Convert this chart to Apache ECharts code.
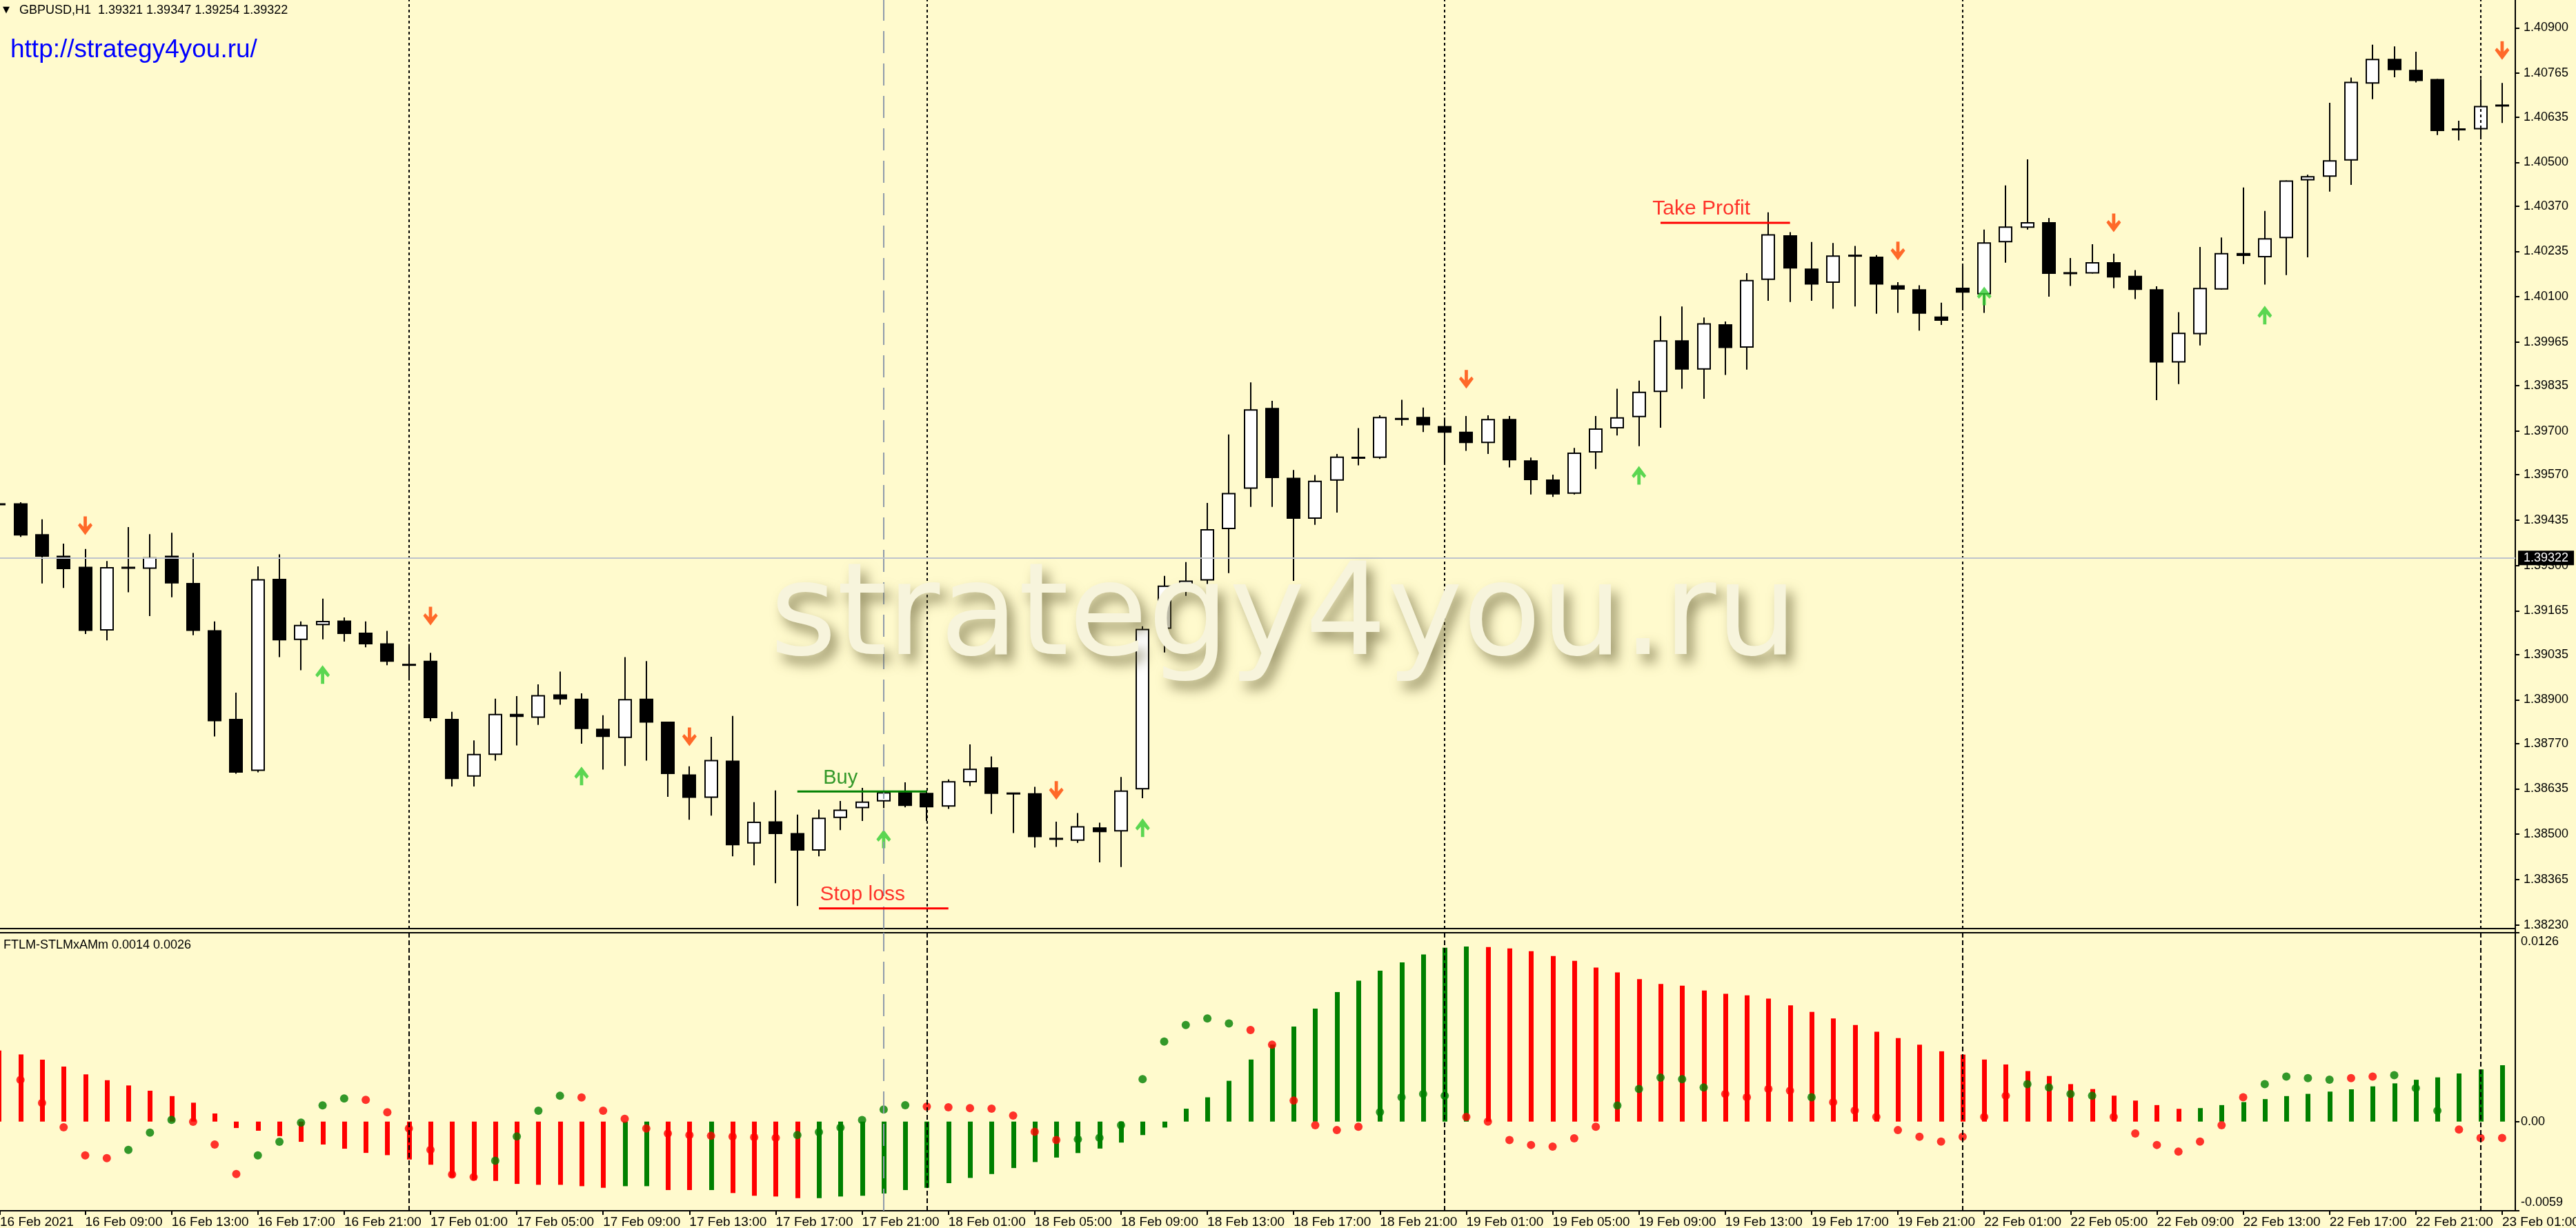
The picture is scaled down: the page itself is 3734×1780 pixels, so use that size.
<!DOCTYPE html>
<html><head><meta charset="utf-8">
<script src="https://cdn.jsdelivr.net/npm/echarts@6/dist/echarts.min.js"></script>
<style>html,body{margin:0;padding:0;background:#FFFACD;overflow:hidden}#c{width:3734px;height:1780px}</style>
</head><body><div id="c"></div>
<script>
// ---------- categories (H1 bars) ----------
const sessionDays = ['16 Feb','17 Feb','18 Feb','19 Feb','22 Feb','23 Feb'];
const sessionFirstHour = [5,0,0,0,0,0];
const sessionLastHour = [23,23,23,23,23,1];
const categories = [];
sessionDays.forEach((d,k)=>{for(let h=sessionFirstHour[k];h<=sessionLastHour[k];h++)categories.push(d+' '+String(h).padStart(2,'0')+':00');});
categories[0] = '16 Feb 2021';
const xLabelIdx = [0,4,8,12,16,20,24,28,32,36,40,44,48,52,56,60,64,68,72,76,80,84,88,92,96,100,104,108,112,116];
const daySeparatorIdx = [19,43,67,91,115];
const crosshairIdx = 41;

// ---------- price OHLC ----------
const openP = [1.39482,1.39485,1.39393,1.39329,1.39296,1.39106,1.39293,1.39290,1.39329,1.39248,1.39107,1.38843,1.38688,1.39260,1.39078,1.39122,1.39136,1.39100,1.39068,1.39005,
1.39016,1.38843,1.38671,1.38736,1.38858,1.38846,1.38916,1.38903,1.38814,1.38786,1.38903,1.38835,1.38678,1.38608,1.38719,1.38472,1.38538,1.38503,1.38451,1.38548,
1.38577,1.38597,1.38625,1.38623,1.38582,1.38654,1.38699,1.38621,1.38622,1.38486,1.38480,1.38520,1.38508,1.38633,1.39111,1.39235,1.39255,1.39408,1.39528,1.39769,
1.39561,1.39439,1.39552,1.39621,1.39620,1.39736,1.39742,1.39715,1.39698,1.39664,1.39736,1.39613,1.39556,1.39513,1.39636,1.39708,1.39741,1.39816,1.39970,1.39883,
1.40018,1.39948,1.40150,1.40283,1.40184,1.40141,1.40222,1.40219,1.40134,1.40122,1.40041,1.40127,1.40107,1.40262,1.40305,1.40322,1.40170,1.40169,1.40203,1.40162,
1.40122,1.39904,1.39988,1.40121,1.40230,1.40217,1.40274,1.40446,1.40457,1.40505,1.40734,1.40808,1.40775,1.40748,1.40598,1.40598,1.40669];
const highP = [1.39511,1.39488,1.39437,1.39365,1.39349,1.39313,1.39414,1.39393,1.39397,1.39337,1.39133,1.38921,1.39297,1.39333,1.39133,1.39201,1.39145,1.39133,1.39105,1.39066,
1.39040,1.38864,1.38779,1.38903,1.38911,1.38946,1.38984,1.38919,1.38854,1.39027,1.39015,1.38835,1.38702,1.38790,1.38852,1.38595,1.38630,1.38558,1.38573,1.38599,
1.38638,1.38642,1.38654,1.38630,1.38663,1.38767,1.38731,1.38622,1.38641,1.38537,1.38563,1.38534,1.38670,1.39119,1.39269,1.39310,1.39486,1.39690,1.39845,1.39790,
1.39584,1.39569,1.39632,1.39709,1.39747,1.39793,1.39770,1.39740,1.39745,1.39747,1.39745,1.39621,1.39570,1.39650,1.39745,1.39826,1.39850,1.40042,1.40071,1.40038,
1.40026,1.40170,1.40351,1.40292,1.40263,1.40260,1.40251,1.40224,1.40143,1.40134,1.40082,1.40192,1.40300,1.40431,1.40509,1.40334,1.40215,1.40256,1.40228,1.40179,
1.40131,1.40054,1.40248,1.40276,1.40425,1.40355,1.40446,1.40463,1.40677,1.40752,1.40850,1.40845,1.40829,1.40748,1.40624,1.40748,1.40736];
const lowP = [1.39443,1.39385,1.39246,1.39233,1.39096,1.39077,1.39220,1.39149,1.39205,1.39092,1.38791,1.38680,1.38684,1.39027,1.38988,1.39080,1.39073,1.39056,1.39003,1.38957,
1.38836,1.38642,1.38642,1.38719,1.38764,1.38825,1.38885,1.38769,1.38692,1.38703,1.38719,1.38611,1.38543,1.38555,1.38434,1.38407,1.38354,1.38286,1.38434,1.38512,
1.38539,1.38577,1.38580,1.38539,1.38575,1.38643,1.38560,1.38503,1.38460,1.38462,1.38474,1.38416,1.38402,1.38607,1.39041,1.39209,1.39209,1.39277,1.39474,1.39474,
1.39254,1.39421,1.39457,1.39598,1.39617,1.39716,1.39697,1.39607,1.39641,1.39632,1.39592,1.39511,1.39504,1.39511,1.39587,1.39687,1.39655,1.39710,1.39826,1.39796,
1.39867,1.39883,1.40088,1.40084,1.40088,1.40064,1.40071,1.40049,1.40052,1.39999,1.40016,1.40062,1.40052,1.40201,1.40300,1.40100,1.40132,1.40169,1.40125,1.40093,
1.39792,1.39840,1.39955,1.40121,1.40197,1.40136,1.40164,1.40217,1.40413,1.40433,1.40688,1.40753,1.40738,1.40581,1.40565,1.40569,1.40617];
const closeP = [1.39482,1.39389,1.39326,1.39289,1.39105,1.39295,1.39293,1.39324,1.39246,1.39105,1.38836,1.38683,1.39259,1.39077,1.39123,1.39135,1.39096,1.39065,1.39013,1.39003,
1.38845,1.38664,1.38739,1.38858,1.38849,1.38914,1.38901,1.38813,1.38789,1.38902,1.38832,1.38679,1.38608,1.38721,1.38467,1.38537,1.38500,1.38451,1.38549,1.38573,
1.38597,1.38625,1.38584,1.38580,1.38658,1.38695,1.38620,1.38621,1.38491,1.38486,1.38524,1.38506,1.38630,1.39111,1.39240,1.39255,1.39408,1.39516,1.39765,1.39560,
1.39439,1.39552,1.39624,1.39620,1.39742,1.39736,1.39717,1.39695,1.39664,1.39736,1.39613,1.39554,1.39511,1.39636,1.39708,1.39741,1.39817,1.39970,1.39883,1.40021,
1.39947,1.40150,1.40286,1.40184,1.40136,1.40223,1.40222,1.40136,1.40121,1.40049,1.40028,1.40112,1.40262,1.40309,1.40322,1.40168,1.40170,1.40203,1.40157,1.40120,
1.39904,1.39993,1.40126,1.40230,1.40221,1.40274,1.40446,1.40459,1.40506,1.40740,1.40808,1.40774,1.40742,1.40593,1.40598,1.40668,1.40669];

// ---------- signal arrows ----------
const sellArrowIdx = [4,20,32,49,68,88,98,116];
const sellArrowPrice = [1.39418,1.39149,1.38790,1.38630,1.39854,1.40236,1.40320,1.40833];
const buyArrowIdx = [15,27,41,53,76,92,105];
const buyArrowPrice = [1.38975,1.38673,1.38486,1.38519,1.39568,1.40102,1.40045];

// ---------- trade lines ----------
const buyLine = {from:37, to:43, price:1.38627, text:'Buy', textIdx:38.18, textPrice:1.38666};
const stopLine = {from:38, to:44, price:1.38279, text:'Stop loss', textIdx:38.03, textPrice:1.38319};
const takeLine = {from:77, to:83, price:1.40320, text:'Take Profit', textIdx:76.61, textPrice:1.40362};
const bidPrice = 1.39322;

// ---------- indicator ----------
const histVal = [0.00474,0.00448,0.00413,0.00367,0.00315,0.00276,0.00241,0.00206,0.00170,0.00126,0.00054,-0.00043,-0.00061,-0.00097,-0.00135,-0.00153,-0.00181,-0.00209,-0.00224,-0.00253,
-0.00288,-0.00373,-0.00391,-0.00396,-0.00416,-0.00422,-0.00422,-0.00431,-0.00442,-0.00431,-0.00431,-0.00457,-0.00457,-0.00457,-0.00477,-0.00495,-0.00500,-0.00511,-0.00511,-0.00500,
-0.00495,-0.00480,-0.00457,-0.00442,-0.00411,-0.00376,-0.00350,-0.00310,-0.00270,-0.00240,-0.00210,-0.00180,-0.00140,-0.00090,-0.00040,0.00086,0.00162,0.00272,0.00414,0.00514,
0.00634,0.00754,0.00864,0.00940,0.01007,0.01062,0.01115,0.01160,0.01168,0.01165,0.01155,0.01137,0.01105,0.01072,0.01028,0.00995,0.00951,0.00918,0.00907,0.00875,
0.00853,0.00842,0.00820,0.00776,0.00732,0.00688,0.00644,0.00600,0.00557,0.00513,0.00469,0.00447,0.00414,0.00381,0.00337,0.00304,0.00250,0.00217,0.00173,0.00140,
0.00110,0.00085,0.00090,0.00110,0.00130,0.00150,0.00170,0.00185,0.00200,0.00215,0.00235,0.00255,0.00279,0.00295,0.00321,0.00348,0.00376];
const histCol = 'rrrrrrrrrrrrrrrrrrrrrrrrrrrrrggrrgrrrrgggggggggggggggggggggggggggggggrrrrrrrrrrrrrrrrrrrrrrrrrrrrrrrrrggggggggggggggg';
const dotVal = [0.00359,0.00278,0.00124,-0.00038,-0.00226,-0.00244,-0.00189,-0.00074,0.00011,-0.00001,-0.00153,-0.00350,-0.00226,-0.00135,-0.00007,0.00108,0.00154,0.00145,0.00062,-0.00046,
-0.00189,-0.00353,-0.00370,-0.00261,-0.00099,0.00072,0.00172,0.00161,0.00072,0.00018,-0.00046,-0.00079,-0.00090,-0.00095,-0.00100,-0.00105,-0.00108,-0.00090,-0.00070,-0.00040,
0.00010,0.00080,0.00109,0.00100,0.00095,0.00090,0.00086,0.00040,-0.00068,-0.00123,-0.00118,-0.00108,-0.00024,0.00283,0.00534,0.00644,0.00688,0.00655,0.00611,0.00513,
0.00140,-0.00024,-0.00057,-0.00035,0.00063,0.00162,0.00184,0.00173,0.00031,0.00000,-0.00123,-0.00156,-0.00167,-0.00112,-0.00035,0.00107,0.00217,0.00293,0.00283,0.00228,
0.00184,0.00162,0.00217,0.00206,0.00162,0.00129,0.00074,0.00031,-0.00057,-0.00101,-0.00134,-0.00101,0.00031,0.00173,0.00250,0.00228,0.00184,0.00173,0.00031,-0.00079,
-0.00156,-0.00200,-0.00134,-0.00024,0.00162,0.00250,0.00300,0.00290,0.00280,0.00290,0.00300,0.00310,0.00223,0.00072,-0.00053,-0.00109,-0.00109];
const dotCol = 'grrrrrgggrrrgggggrrrrrrggggrrrrrrrrrrggggggrrrrrrrggggggggrrrrrrggggrrrrrrrgggggrrrrgrrrrrrrrrggggrrrrrrrggggrrgggrrrrr';

// ---------- axis tick labels ----------
const priceTicks = [1.38230,1.38365,1.38500,1.38635,1.38770,1.38900,1.39035,1.39165,1.39300,1.39435,1.39570,1.39700,1.39835,1.39965,1.40100,1.40235,1.40370,1.40500,1.40635,1.40765,1.40900];
const indTickValues = [-0.00595,0,0.0126];
const indLabelValues = [0.0120,0,-0.0054];
const indLabelTexts = ['0.0126','0.00','-0.0059'];

// ---------- layout constants ----------
const PMIN = 1.382188, PMAX = 1.409832;
const IMIN = -0.00595, IMAX = 0.0126;
const XMIN = 0.0512, XMAX = 116.61;
const GREEN = '#008000', RED = '#FF0000';
const FONT = 'Liberation Sans, Arial, sans-serif';
const xLabelPos = xLabelIdx.map(i=>Math.max(i, XMIN));

const chart = echarts.init(document.getElementById('c'), null, {width:3734, height:1780});

const sepLine = (dash)=>daySeparatorIdx.map(i=>({xAxis:i, lineStyle:{color:'#000', width:2, type:dash}}));

const option = {
  backgroundColor:'#FFFACD',
  animation:false,
  textStyle:{fontFamily:FONT},
  grid:[
    {left:0, top:0, width:3646, height:1346, containLabel:false, outerBoundsMode:'none'},
    {left:0, top:1352, width:3646, height:403, containLabel:false, outerBoundsMode:'none'}
  ],
  xAxis:[
    {type:'value', gridIndex:0, min:XMIN, max:XMAX, axisLine:{show:true, onZero:false, lineStyle:{color:'#000', width:2}}, axisTick:{show:false}, axisLabel:{show:false}, splitLine:{show:false}},
    {type:'value', gridIndex:1, min:XMIN, max:XMAX, position:'bottom',
      axisLine:{show:true, onZero:false, lineStyle:{color:'#000', width:2}},
      axisTick:{show:true, customValues:xLabelPos, length:6, lineStyle:{color:'#000', width:2}},
      axisLabel:{show:true, customValues:xLabelPos, formatter:v=>categories[Math.round(v)], align:'left', padding:0, margin:7, color:'#000', fontSize:19, fontFamily:FONT},
      splitLine:{show:false}},
    {type:'value', gridIndex:1, min:XMIN, max:XMAX, position:'top', axisLine:{show:true, onZero:false, lineStyle:{color:'#000', width:2}}, axisTick:{show:false}, axisLabel:{show:false}, splitLine:{show:false}}
  ],
  yAxis:[
    {type:'value', gridIndex:0, position:'right', min:PMIN, max:PMAX,
      axisLine:{show:true, onZero:false, lineStyle:{color:'#000', width:2}},
      axisTick:{show:true, customValues:priceTicks, length:6, lineStyle:{color:'#000', width:2}},
      axisLabel:{show:true, customValues:priceTicks, formatter:v=>v.toFixed(5), margin:12, color:'#000', fontSize:18, fontFamily:FONT},
      splitLine:{show:false}},
    {type:'value', gridIndex:1, position:'right', min:IMIN, max:IMAX,
      axisLine:{show:true, onZero:false, lineStyle:{color:'#000', width:2}},
      axisTick:{show:true, customValues:indTickValues, length:6, lineStyle:{color:'#000', width:2}},
      axisLabel:{show:true, customValues:indLabelValues, formatter:v=>{let k=0,b=1e9;indLabelValues.forEach((x,j)=>{if(Math.abs(x-v)<b){b=Math.abs(x-v);k=j;}});return indLabelTexts[k];}, margin:8, color:'#000', fontSize:18, fontFamily:FONT},
      splitLine:{show:false}}
  ],
  series:[
    // candles
    {type:'custom', name:'GBPUSD', xAxisIndex:0, yAxisIndex:0, z:3,
      data: openP.map((o,i)=>[i,o,closeP[i],lowP[i],highP[i]]),
      encode:{x:0, y:[1,2,3,4]},
      renderItem:function(params, api){
        const i = params.dataIndex;
        const o=openP[i], c=closeP[i], h=highP[i], l=lowP[i];
        const po=api.coord([i,o]), pc=api.coord([i,c]), ph=api.coord([i,h]), pl=api.coord([i,l]);
        const x=Math.round(po[0]);
        const top=Math.min(po[1],pc[1]), bot=Math.max(po[1],pc[1]);
        const kids=[{type:'rect', shape:{x:x-1, y:ph[1], width:2, height:Math.max(1,pl[1]-ph[1])}, style:{fill:'#000'}}];
        if (bot-top<3) kids.push({type:'rect', shape:{x:x-10, y:(top+bot)/2-1.5, width:20, height:3}, style:{fill:'#000'}});
        else kids.push({type:'rect', shape:{x:x-9, y:top+1, width:18, height:bot-top-2}, style:{fill:c>o?'#fff':'#000', stroke:'#000', lineWidth:2}});
        return {type:'group', children:kids};
      }
    },
    // sell arrows + main-panel vertical/horizontal lines
    {type:'scatter', xAxisIndex:0, yAxisIndex:0, z:4,
      data: sellArrowIdx.map((i,k)=>[i,sellArrowPrice[k]]),
      symbol:'path://M8.5,0 L13.5,0 L13.5,15 L19,9.5 L22,13 L11,27 L0,13 L3,9.5 L8.5,15 Z',
      symbolSize:[21,27], itemStyle:{color:'#FF4500'},
      markLine:{silent:true, symbol:['none','none'], animation:false, precision:6,
        label:{show:false},
        data:[...sepLine([4,4]),
          {xAxis:crosshairIdx, lineStyle:{color:'#8f9bab', width:2, type:[32,15]}},
          {yAxis:bidPrice, lineStyle:{color:'#BFC4CC', width:2, type:'solid'},
           label:{show:true, position:'end', formatter:bidPrice.toFixed(5), color:'#fff', backgroundColor:'#000', padding:[2,8,1,8], fontSize:18, fontFamily:FONT, distance:4}}
        ]}
    },
    {type:'scatter', xAxisIndex:0, yAxisIndex:0, z:4,
      data: buyArrowIdx.map((i,k)=>[i,buyArrowPrice[k]]),
      symbol:'path://M8.5,27 L13.5,27 L13.5,12 L19,17.5 L22,14 L11,0 L0,14 L3,17.5 L8.5,12 Z',
      symbolSize:[21,27], itemStyle:{color:'#32CD32'}},
    // trade lines
    {type:'line', xAxisIndex:0, yAxisIndex:0, z:5, symbol:'none', data:[[buyLine.from,buyLine.price],[buyLine.to,buyLine.price]], lineStyle:{color:GREEN, width:3}},
    {type:'line', xAxisIndex:0, yAxisIndex:0, z:5, symbol:'none', data:[[stopLine.from,stopLine.price],[stopLine.to,stopLine.price]], lineStyle:{color:RED, width:3}},
    {type:'line', xAxisIndex:0, yAxisIndex:0, z:5, symbol:'none', data:[[takeLine.from,takeLine.price],[takeLine.to,takeLine.price]], lineStyle:{color:RED, width:3}},
    // trade texts
    {type:'scatter', xAxisIndex:0, yAxisIndex:0, z:6, symbolSize:1, itemStyle:{color:'rgba(0,0,0,0)'},
      data:[
        {value:[buyLine.textIdx, buyLine.textPrice], label:{show:true, position:'right', distance:0, formatter:buyLine.text, color:GREEN, fontSize:29, fontFamily:FONT}},
        {value:[stopLine.textIdx, stopLine.textPrice], label:{show:true, position:'right', distance:0, formatter:stopLine.text, color:RED, fontSize:30, fontFamily:FONT}},
        {value:[takeLine.textIdx, takeLine.textPrice], label:{show:true, position:'right', distance:0, formatter:takeLine.text, color:RED, fontSize:30, fontFamily:FONT}}
      ]},
    // indicator histogram
    {type:'custom', xAxisIndex:1, yAxisIndex:1, z:3,
      data: histVal.map((v,i)=>[i,v]),
      encode:{x:0, y:1},
      renderItem:function(params, api){
        const i=params.dataIndex, v=histVal[i];
        const p0=api.coord([i,0]), p1=api.coord([i,v]);
        const x=Math.round(p0[0]);
        return {type:'rect', shape:{x:x-3, y:Math.min(p0[1],p1[1]), width:7, height:Math.max(1,Math.abs(p1[1]-p0[1]))}, style:{fill:histCol[i]==='g'?GREEN:RED}};
      }
    },
    // indicator dots + separators
    {type:'scatter', xAxisIndex:1, yAxisIndex:1, z:4,
      data: dotVal.map((v,i)=>[i,v]), symbol:'circle', symbolSize:12,
      itemStyle:{color:p=>dotCol[p.dataIndex]==='g'?GREEN:RED},
      markLine:{silent:true, symbol:['none','none'], animation:false, precision:6, label:{show:false},
        data:[...sepLine([7,4]), {xAxis:crosshairIdx, lineStyle:{color:'#8f9bab', width:2, type:[32,15]}}]}
    }
  ],
  graphic:[
    {type:'text', z:100, x:1116, y:900, style:{text:'strategy4you.ru', font:'186px "DejaVu Sans"', fill:'#f7f4dc', verticalAlign:'middle', textVerticalAlign:'middle', align:'left', textAlign:'left',
      textShadowColor:'rgba(100,94,52,0.65)', textShadowBlur:18, textShadowOffsetX:9, textShadowOffsetY:12}},
    {type:'text', z:100, x:4, y:15, style:{text:'▼', font:'13px "DejaVu Sans"', fill:'#000', verticalAlign:'middle', textVerticalAlign:'middle'}},
    {type:'text', z:100, x:28, y:15, style:{text:'GBPUSD,H1  1.39321 1.39347 1.39254 1.39322', font:'18px "Liberation Sans"', fill:'#000', verticalAlign:'middle', textVerticalAlign:'middle'}},
    {type:'text', z:100, x:15, y:73, style:{text:'http://strategy4you.ru/', font:'37px "Liberation Sans"', fill:'#0000FF', verticalAlign:'middle', textVerticalAlign:'middle'}},
    {type:'text', z:100, x:5, y:1370, style:{text:'FTLM-STLMxAMm 0.0014 0.0026', font:'18px "Liberation Sans"', fill:'#000', verticalAlign:'middle', textVerticalAlign:'middle'}},
    {type:'rect', z:100, shape:{x:3645, y:1340, width:2, height:16}, style:{fill:'#000'}}
  ]
};
chart.setOption(option);
</script></body></html>
